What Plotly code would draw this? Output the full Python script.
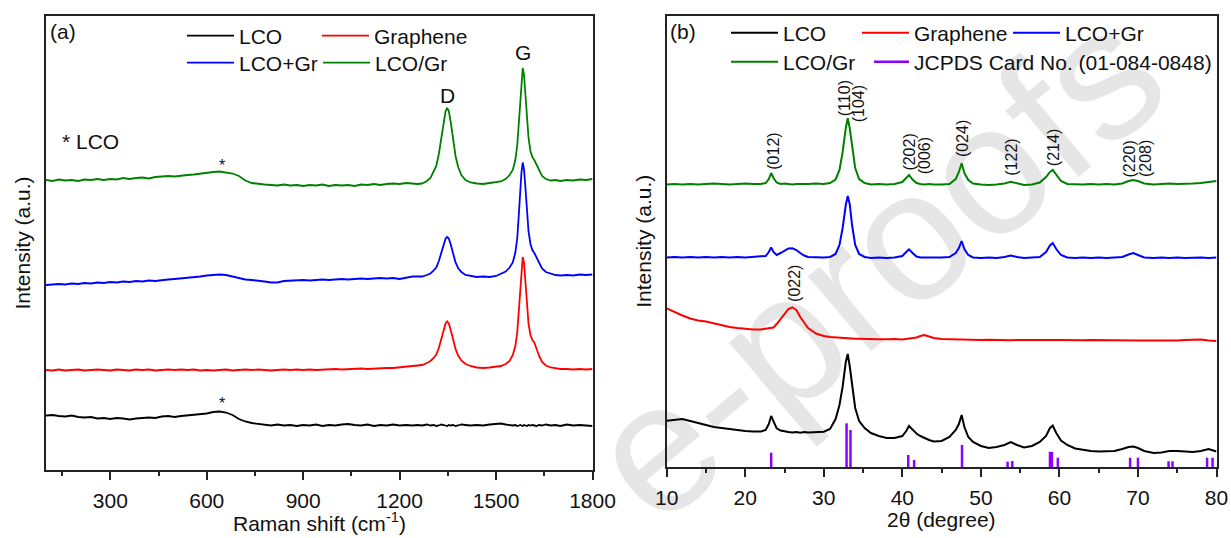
import plotly.graph_objects as go

# ---------------- data: Raman (panel a) ----------------
raman_shift = [
    100, 120, 140, 160, 180, 200, 220, 240, 260, 280,
    300, 320, 340, 360, 380, 400, 420, 440, 460, 480,
    500, 520, 540, 560, 580, 600, 620, 640, 660, 680,
    700, 720, 740, 760, 780, 800, 820, 840, 860, 880,
    900, 920, 940, 960, 980, 1000, 1020, 1040, 1060, 1080,
    1100, 1120, 1140, 1160, 1180, 1200, 1220, 1240,
    1255, 1270, 1285, 1296, 1306, 1314, 1322, 1330, 1337, 1343,
    1348, 1353, 1359, 1366, 1374, 1382, 1392, 1405, 1420, 1440,
    1460, 1480, 1500, 1515, 1530, 1542, 1552, 1560, 1566, 1571,
    1575, 1579, 1583, 1587, 1591, 1596, 1601, 1607, 1613, 1619,
    1626, 1634, 1643, 1655, 1670, 1685, 1700,
    1720, 1740, 1760, 1780, 1800,
]

raman_lco_gr = [  # LCO/Gr (green)
    288, 287, 288.5, 287.5, 288, 287, 288.5, 288, 289, 288,
    289, 288.5, 290, 289, 290, 290.5, 289.5, 291, 291.5, 292,
    291.5, 292.5, 293, 293.5, 294.5, 295, 296, 296.5, 295.5, 294.5,
    292, 287.5, 285, 284, 283.5, 283, 282.5, 283.5, 282.5, 283,
    282, 283, 282.5, 283.5, 282, 283, 282.5, 283, 282, 283.5,
    283, 284, 283, 284, 284.5, 284, 285, 284.5,
    284, 284.5, 287, 290, 296, 302, 314, 332, 348, 357,
    360, 357, 346, 329, 312, 301, 293, 288, 285.5, 284.5,
    284, 285, 285.5, 286.5, 289, 293, 298, 308, 323, 348,
    370, 390, 400, 393, 376, 350, 330, 317, 311, 308,
    303, 297, 292, 289, 287.5, 288, 287,
    288, 287.5, 288.5, 288, 289,
]

raman_lco_plus_gr = [  # LCO+Gr (blue)
    183, 183.5, 184, 183.5, 184.5, 184, 185, 184.5, 185.5, 185,
    186, 185.5, 186.5, 186, 187, 186.5, 187.5, 187, 188, 188.5,
    189, 189.5, 190, 190.5, 191.5, 192.5, 193, 193.5, 193, 191.5,
    190, 188.5, 188, 187.5, 186.5, 185.5, 185.5, 187, 187.5, 187.5,
    188, 187.5, 188, 188.5, 188, 188.5, 189, 188.5, 189, 189.5,
    189, 189.5, 190, 189.5, 190, 189, 190.5, 191.5,
    191.5, 191.5, 193, 194.5, 197.5, 200.5, 207, 216.5, 225, 229.5,
    231, 229.5, 223.5, 214.5, 205.5, 200, 196, 193, 192, 191,
    191.5, 191, 192, 194, 196.5, 200.5, 205.5, 215.5, 230, 254.5,
    276, 295.5, 305.5, 298.5, 282, 256.5, 236.5, 224, 218, 215,
    210, 204.5, 199.5, 196, 194.5, 193, 192.5,
    193, 192.5, 193.5, 193, 193.5,
]

raman_graphene = [  # Graphene (red)
    98, 97.5, 98.5, 97.5, 98, 98.5, 97.5, 98, 98.5, 98,
    97.5, 98.5, 98, 97.5, 98.5, 98, 98.5, 97.5, 98, 98.5,
    98, 98.5, 98, 98.5, 97.5, 98, 97.5, 98, 98.5, 97.5,
    98, 98.5, 98, 98.5, 98, 97.5, 98, 98.5, 98, 98.5,
    98, 98.5, 98, 98.5, 98.5, 99, 98.5, 99, 99, 99.5,
    99, 99.5, 99.5, 100, 100, 100.5, 101, 101.5,
    102, 103, 105, 107, 110, 113.5, 120, 130, 139.5, 144.5,
    146.5, 144.5, 138, 128.5, 119, 112.5, 107.5, 104, 102, 100.5,
    100, 100.5, 101, 102, 104, 107, 113, 122, 136, 160,
    182, 201, 211, 205, 189, 164, 144, 133, 128, 125.5,
    119, 112, 106, 102.5, 100.5, 99.5, 99,
    99, 98.5, 99, 98.5, 99,
]

raman_lco = [  # LCO (black)
    52.5, 53, 52, 51.5, 52.5, 51, 50.5, 51, 49.5, 50,
    49, 50, 49.5, 48.5, 49.5, 50, 50.5, 50, 51.5, 52,
    51, 52, 52.5, 53, 53.5, 54.5, 56, 56.5, 55.5, 53,
    49, 46.5, 45, 44, 43, 42.5, 43.5, 42.5, 43, 42,
    43, 42.5, 43.5, 42, 43, 42.5, 43.5, 44, 43, 42.5,
    43.5, 42, 43, 42.5, 43.5, 42.5, 43, 42.5,
    43, 42.5, 43.5, 42.5, 43, 42, 42.5, 43.5, 43, 42.5,
    42, 43, 42.5, 43, 42, 42.5, 43.5, 43, 42.5, 43,
    42.5, 43.5, 44, 44.5, 43.5, 43, 42.5, 43, 42, 42.5,
    43, 42.5, 42, 43, 42.5, 42, 43, 42.5, 43, 42.5,
    42, 43, 42.5, 43.5, 42.5, 43, 42,
    43.5, 42.5, 43, 42.5, 42,
]

# ---------------- data: XRD (panel b) ----------------
two_theta = [
    10, 11, 12, 13, 14, 15, 16, 17, 18, 19, 20, 21, 22,
    22.6, 23.0, 23.3, 23.6, 24.0, 24.5, 25.0, 25.5, 26.0, 26.5,
    27.0, 27.5, 28, 29, 30, 30.8, 31.5, 32.0, 32.4, 32.8,
    33.05, 33.3, 33.6, 34.0, 34.5, 35.2, 36, 37, 38, 39,
    40.0, 40.5, 40.85, 41.3, 41.8, 42.3, 42.8, 43.4, 44, 45,
    46, 46.8, 47.2, 47.55, 47.9, 48.4, 49, 50, 51, 52,
    53, 53.8, 54.6, 55.5, 56.5, 57.5, 58.3, 58.8, 59.15, 59.6,
    60.2, 61, 62, 63, 64, 65, 66, 67, 68, 68.8,
    69.4, 70.0, 70.8, 72, 73, 74, 75, 76, 77, 78,
    79, 80,
]

xrd_lco = [
    47.3, 48.5, 49, 47, 45, 42.5, 41, 40, 39, 37.5, 37, 36.5, 36.5,
    38, 44, 52, 46, 39.7, 37.5, 36.5, 36, 35.5, 36,
    35.3, 36, 35.5, 36, 36.3, 39, 49, 63, 81.3, 106,
    114, 102, 83, 60, 47, 40, 35, 32, 30, 30,
    32, 37, 42, 38, 34.5, 32, 30, 28, 26.5, 27,
    31, 38, 44, 53, 41, 31, 26, 22, 20, 21,
    23, 26, 23, 20.5, 22, 26, 32, 40, 42.3, 35,
    27.5, 23, 19.5, 18, 17, 16.5, 16.5, 17, 19, 21,
    21.5, 20, 17, 15, 15.5, 17, 17, 16.5, 16, 17,
    19, 16.5,
]

xrd_graphene = [
    159.7, 156, 152.5, 149.5, 147.5, 146.5, 144.5, 142.5, 141, 140, 139, 138.5, 138.5,
    139, 139.5, 140, 140.5, 144, 149, 155, 159, 160.7, 158,
    151, 145, 140, 134.5, 132, 131, 130.5, 130, 130, 129.7,
    129.5, 129.7, 129.5, 129.3, 129.3, 129, 129, 128.8, 128.7, 129,
    128.5, 129, 129, 129.5, 130.5, 132, 133, 131.5, 130, 129,
    128.7, 128.5, 128.5, 128.5, 128.5, 128.3, 128, 128, 128.3, 128,
    128, 127.8, 128, 128.2, 127.8, 128, 128, 127.8, 128, 127.9,
    128, 127.8, 128, 127.7, 128, 127.8, 127.6, 127.8, 127.6, 127.5,
    127.6, 127.5, 127.6, 127.5, 127.7, 127.5, 127.6, 128, 128, 128.5,
    127.5, 127,
]

xrd_lco_plus_gr = [
    210.5, 211, 210.5, 211, 210.5, 211, 210.5, 211, 210.5, 211, 210.5, 211, 211,
    212, 216, 220.5, 216, 213, 215, 217.5, 219.5, 219.7, 218,
    215, 212.5, 211, 210.5, 210.5, 211, 214, 223, 240, 263,
    272, 264, 243, 223, 214, 211, 210, 210.5, 210, 210.5,
    212, 216, 218.7, 215, 211.5, 210.5, 210.5, 210, 210, 210.5,
    211, 215, 220, 227, 219, 213, 210.5, 210, 210.5, 210,
    211, 212.5, 211, 210, 210.5, 211, 216, 222.5, 225, 219,
    213, 210.5, 210, 210.5, 210, 210.5, 210, 210.5, 211, 213.5,
    215, 213, 210.5, 210, 210.5, 210, 210.5, 210, 210.5, 210.5,
    210, 210.5,
]

xrd_lco_gr = [
    283.5, 284, 283.5, 284, 283.5, 284, 284.5, 284, 283.5, 284, 284.5, 284, 284,
    285, 289, 295, 290, 285.5, 284, 284.5, 284, 283.5, 284,
    284, 283.5, 284, 284.5, 284, 285, 288.5, 298, 316, 340,
    349.7, 340, 321, 300, 289, 285, 283.5, 284, 283.5, 284,
    286, 290, 293, 288.5, 285, 284, 283.5, 284, 283.5, 283.5,
    284, 289, 296, 304.7, 295, 288, 284.5, 283.5, 283, 283.5,
    284.5, 286.3, 284.5, 283, 283.5, 285.5, 291, 296, 298, 293,
    287, 284, 283.5, 283.5, 284, 283.5, 284, 283.5, 284.5, 287,
    288, 287, 284.5, 283.5, 284, 284.5, 284, 284, 284.5, 285,
    286, 287,
]

jcpds_pos = [23.3, 32.9, 33.4, 40.75, 41.5, 47.6, 53.4, 54.0, 58.8, 59.05,
             59.8, 69.0, 70.0, 73.9, 74.4, 78.8, 79.5]
jcpds_int = [15.3, 44.7, 38, 13, 8, 23, 6.3, 7, 16.3, 16,
             10.3, 10.3, 10.3, 6.7, 6.7, 10.3, 10.3]

peak_labels = ["(012)", "(110)", "(104)", "(202)", "(006)", "(024)", "(122)",
               "(214)", "(220)", "(208)", "(022)"]
peak_label_x = [23.5, 32.6, 34.4, 40.8, 42.8, 47.6, 53.8, 59.2, 68.8, 70.9, 26.2]
peak_label_y = [317, 370, 364, 316, 312, 329, 311, 320, 309, 309, 185]

# ---------------- figure ----------------
W, H = 1231, 538
FONT = "Liberation Sans, Arial, sans-serif"
TXT = "#111111"
FRAME = "#222222"

fig = go.Figure()

left_series = [
    ("LCO", raman_lco, "#000000", "legend"),
    ("Graphene", raman_graphene, "#ff0000", "legend2"),
    ("LCO+Gr", raman_lco_plus_gr, "#0000ff", "legend3"),
    ("LCO/Gr", raman_lco_gr, "#008000", "legend4"),
]
for name, ys, col, lg in left_series:
    fig.add_trace(go.Scatter(x=raman_shift, y=ys, mode="lines", name=name,
                             line=dict(color=col, width=1.8), showlegend=True,
                             xaxis="x", yaxis="y", legend=lg))

right_series = [
    ("LCO", xrd_lco, "#000000", "legend5"),
    ("Graphene", xrd_graphene, "#ff0000", "legend6"),
    ("LCO+Gr", xrd_lco_plus_gr, "#0000ff", "legend7"),
    ("LCO/Gr", xrd_lco_gr, "#008000", "legend8"),
]
for name, ys, col, lg in right_series:
    fig.add_trace(go.Scatter(x=two_theta, y=ys, mode="lines", name=name,
                             line=dict(color=col, width=2), showlegend=True,
                             xaxis="x2", yaxis="y2", legend=lg))

# JCPDS reference sticks
stick_x, stick_y = [], []
for p, h in zip(jcpds_pos, jcpds_int):
    stick_x += [p, p, None]
    stick_y += [1, h, None]
fig.add_trace(go.Scatter(x=stick_x, y=stick_y, mode="lines",
                         name="JCPDS Card No. (01-084-0848)", showlegend=True,
                         line=dict(color="#8b00ff", width=2.5),
                         xaxis="x2", yaxis="y2", legend="legend9"))


def leg(x_line_start, y_row, iw=47):
    return dict(x=(x_line_start - 5) / W, y=1 - y_row / H, xanchor="left",
                yanchor="middle", bgcolor="rgba(0,0,0,0)", borderwidth=0,
                itemwidth=iw, visible=True,
                font=dict(size=21, family=FONT, color=TXT))


tickfont = dict(size=21, family=FONT, color=TXT)
axis_common = dict(showline=True, linecolor=FRAME, linewidth=1.5, mirror=True,
                   showgrid=False, zeroline=False, automargin=False)

fig.update_layout(
    width=W, height=H, margin=dict(l=0, r=0, t=0, b=0),
    paper_bgcolor="white", plot_bgcolor="rgba(0,0,0,0)",
    showlegend=True,
    font=dict(family=FONT, color=TXT),
    legend=leg(187, 36), legend2=leg(322, 36),
    legend3=leg(187, 63), legend4=leg(323, 63),
    legend5=leg(731, 33), legend6=leg(862, 33), legend7=leg(1013, 33),
    legend8=leg(731, 62), legend9=leg(874, 62, iw=35),
    xaxis=dict(domain=[46 / W, 592.5 / W], range=[100, 1800], anchor="y",
               tick0=0, dtick=300, ticks="outside", ticklen=8, tickwidth=1.5,
               tickcolor=FRAME, ticklabelstandoff=3, tickfont=tickfont,
               minor=dict(tick0=0, dtick=150, ticks="outside", ticklen=4,
                          tickwidth=1.5, tickcolor=FRAME),
               **axis_common),
    yaxis=dict(domain=[(H - 470) / H, (H - 16) / H], range=[-2, 452], anchor="x",
               showticklabels=False, ticks="",
               title=dict(text="Intensity (a.u.)", font=tickfont, standoff=8),
               **axis_common),
    xaxis2=dict(domain=[666.7 / W, 1216.5 / W], range=[10, 80], anchor="y2",
                tick0=0, dtick=10, ticks="outside", ticklen=8, tickwidth=1.5,
                tickcolor=FRAME, ticklabelstandoff=3, tickfont=tickfont,
                minor=dict(tick0=0, dtick=5, ticks="outside", ticklen=4,
                           tickwidth=1.5, tickcolor=FRAME),
                **axis_common),
    yaxis2=dict(domain=[(H - 467) / H, (H - 15.5) / H], range=[1, 452.5], anchor="x2",
                showticklabels=False, ticks="",
                title=dict(text="Intensity (a.u.)", font=tickfont, standoff=8),
                **axis_common),
)

ann = []


def note(text, x, y, size=21, xref="paper", yref="paper", angle=0):
    ann.append(dict(text=text, x=x, y=y, xref=xref, yref=yref, showarrow=False,
                    textangle=angle, xanchor="center", yanchor="middle",
                    font=dict(size=size, family=FONT, color=TXT)))


# x-axis titles
note("Raman shift (cm<sup>-1</sup>)", 319 / W, 1 - 522 / H)
note("2θ (degree)", 941.6 / W, 1 - 519 / H)

note("(a)", 63 / W, 1 - 32 / H)
note("(b)", 683 / W, 1 - 32 / H)
note("* LCO", 90 / W, 1 - 141 / H)
note("D", 1348, 372, xref="x", yref="y")
note("G", 1583, 415, xref="x", yref="y")
note("*", 647, 303, size=16, xref="x", yref="y")
note("*", 647, 65, size=16, xref="x", yref="y")
for t, x, y in zip(peak_labels, peak_label_x, peak_label_y):
    note(t, x, y, size=16, xref="x2", yref="y2", angle=-90)

fig.update_layout(annotations=ann)

# light-grey "pre-proofs" watermark, drawn beneath the data
fig.add_shape(type="line", xref="paper", yref="paper", layer="below",
              x0=700 / W, y0=1 - 525 / H, x1=1160 / W, y1=1 - 139 / H,
              line=dict(color="rgba(0,0,0,0)", width=0),
              label=dict(text="e-proofs", textposition="middle", textangle=-40,
                         font=dict(size=185, family=FONT, color="#e6e6e6")))

fig.write_html("out.html", config={"displayModeBar": False},
               post_script="document.body.style.margin='0';")
